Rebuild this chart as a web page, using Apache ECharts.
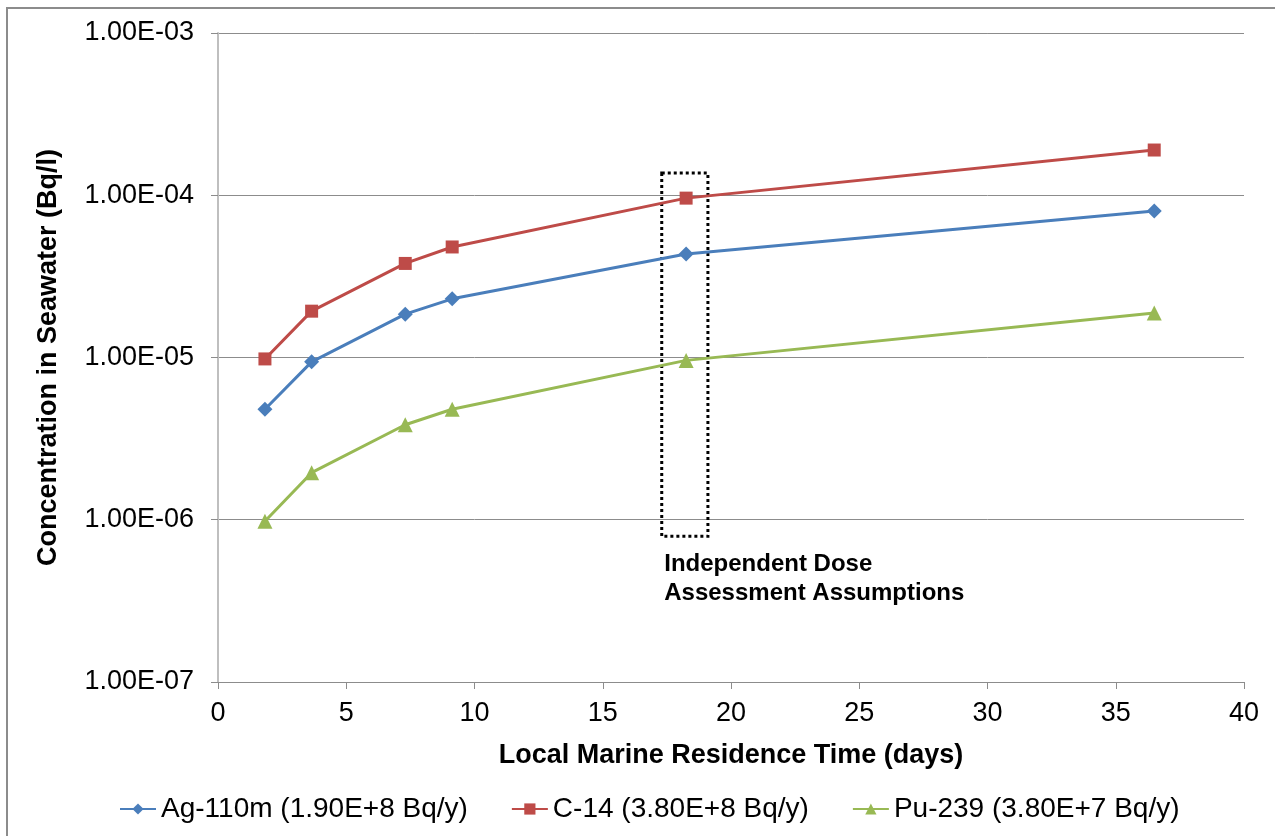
<!DOCTYPE html>
<html>
<head>
<meta charset="utf-8">
<title>Concentration in Seawater vs Local Marine Residence Time</title>
<script src="https://cdn.jsdelivr.net/npm/echarts@6/dist/echarts.min.js"></script>
<style>
  html, body { margin: 0; padding: 0; background: #fff; }
  #chart { width: 1275px; height: 836px; }
</style>
</head>
<body>
<div id="chart"></div>
<script>
// Residence times (days) and seawater concentrations (Bq/l)
const residenceDays = [1.83, 3.65, 7.3, 9.13, 18.25, 36.5];
const ag110m = [4.8e-6, 9.4e-6, 1.85e-5, 2.3e-5, 4.35e-5, 8.0e-5];
const c14    = [9.8e-6, 1.93e-5, 3.8e-5, 4.8e-5, 9.6e-5, 1.9e-4];
const pu239  = [9.8e-7, 1.95e-6, 3.85e-6, 4.8e-6, 9.6e-6, 1.88e-5];

const seriesNames = ['Ag-110m (1.90E+8 Bq/y)', 'C-14 (3.80E+8 Bq/y)', 'Pu-239 (3.80E+7 Bq/y)'];
const seriesColors = ['#4A7EBB', '#BE4B48', '#98B954'];

// Highlighted assumption window: residence time span and concentration span
const boxDays = [17.3, 19.1];
const boxConc = [1.37e-4, 7.9e-7];
const boxLabel = 'Independent Dose\nAssessment Assumptions';

const FONT = '"Liberation Sans", Arial, sans-serif';

function sci(v) {
  const e = Math.round(Math.log10(v));
  const m = v / Math.pow(10, e);
  const sign = e < 0 ? '-' : '+';
  const ae = Math.abs(e);
  return m.toFixed(2) + 'E' + sign + (ae < 10 ? '0' + ae : ae);
}

const pair = (ys) => residenceDays.map((x, i) => [x, ys[i]]);

const chart = echarts.init(document.getElementById('chart'));
chart.setOption({
  animation: false,
  backgroundColor: '#fff',
  grid: { left: 218, right: 31, top: 33, bottom: 154, containLabel: false },
  graphic: [{
    type: 'rect',
    shape: { x: 7, y: 8, width: 1300, height: 900 },
    style: { fill: 'none', stroke: '#8c8c8c', lineWidth: 2 },
    silent: true, z: -10
  }],
  xAxis: {
    type: 'value', min: 0, max: 40, interval: 5,
    name: 'Local Marine Residence Time (days)',
    nameLocation: 'middle', nameGap: 60,
    nameTextStyle: { fontFamily: FONT, fontSize: 27, fontWeight: 'bold', color: '#000' },
    axisLine: { show: true, lineStyle: { color: '#8c8c8c', width: 1 } },
    axisTick: { show: true, length: 7, lineStyle: { color: '#8c8c8c' } },
    axisLabel: { fontFamily: FONT, fontSize: 27, color: '#000', margin: 18 },
    splitLine: { show: false }
  },
  yAxis: {
    type: 'log', logBase: 10, min: 1e-7, max: 1e-3,
    name: 'Concentration in Seawater (Bq/l)',
    nameLocation: 'middle', nameGap: 156, nameRotate: 90,
    nameTextStyle: { fontFamily: FONT, fontSize: 27, fontWeight: 'bold', color: '#000' },
    axisLine: { show: true, lineStyle: { color: '#bfbfbf', width: 2 } },
    axisTick: { show: true, length: 7, lineStyle: { color: '#8c8c8c' } },
    axisLabel: { fontFamily: FONT, fontSize: 27, color: '#000', margin: 24, formatter: sci },
    splitLine: { show: true, lineStyle: { color: '#8c8c8c', width: 1 } },
    minorTick: { show: false }
  },
  legend: {
    bottom: 8, left: 114,
    itemWidth: 36, itemHeight: 14, itemGap: 43,
    textStyle: { fontFamily: FONT, fontSize: 28, color: '#000' },
    data: seriesNames
  },
  series: [
    {
      name: seriesNames[0], type: 'line', data: pair(ag110m),
      color: seriesColors[0], symbol: 'diamond', symbolSize: 15,
      lineStyle: { width: 3 }, z: 3
    },
    {
      name: seriesNames[1], type: 'line', data: pair(c14),
      color: seriesColors[1], symbol: 'rect', symbolSize: 13,
      lineStyle: { width: 3 }, z: 3
    },
    {
      name: seriesNames[2], type: 'line', data: pair(pu239),
      color: seriesColors[2], symbol: 'triangle', symbolSize: 15,
      lineStyle: { width: 3 }, z: 3,
      markArea: {
        silent: true,
        itemStyle: { color: 'rgba(0,0,0,0)', borderColor: '#000', borderWidth: 3, borderType: [3, 3] },
        label: {
          show: true, position: [4, '100%'], offset: [0, 12],
          align: 'left', verticalAlign: 'top',
          fontFamily: FONT, fontSize: 24, fontWeight: 'bold', color: '#000', lineHeight: 29
        },
        data: [[
          { name: boxLabel, xAxis: boxDays[0], yAxis: boxConc[0] },
          { xAxis: boxDays[1], yAxis: boxConc[1] }
        ]]
      }
    }
  ]
});
</script>
</body>
</html>
